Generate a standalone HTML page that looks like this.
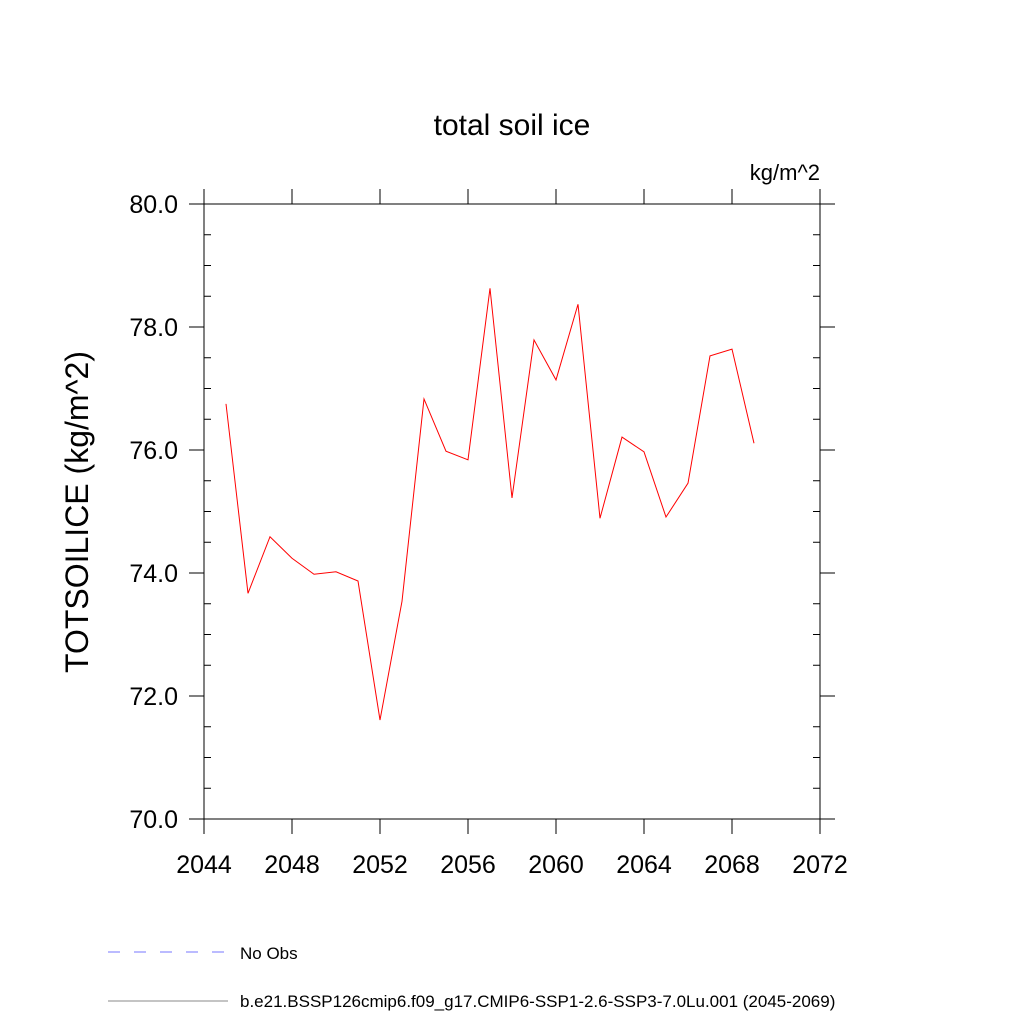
<!DOCTYPE html>
<html><head><meta charset="utf-8"><style>body{margin:0;background:#fff}svg{font-family:"Liberation Sans",sans-serif}</style></head>
<body>
<svg id="c" width="1024" height="1024">
<text x="512" y="135" font-size="30" text-anchor="middle">total soil ice</text>
<text x="820" y="180" font-size="22" text-anchor="end">kg/m^2</text>
<text transform="translate(88,512) rotate(-90)" font-size="32" text-anchor="middle">TOTSOILICE  (kg/m^2)</text>
<rect x="204" y="204" width="616" height="615" fill="none" stroke="#000" stroke-width="1"/>
<g id="ticks"></g>
<polyline id="line" fill="none" stroke="#f00" stroke-width="1"/>
<line x1="108" y1="952" x2="228" y2="952" stroke="#77f" stroke-dasharray="12,14"/>
<text x="240" y="959" font-size="17">No Obs</text>
<line x1="108" y1="1001" x2="228" y2="1001" stroke="#888"/>
<text x="240" y="1007" font-size="17">b.e21.BSSP126cmip6.f09_g17.CMIP6-SSP1-2.6-SSP3-7.0Lu.001 (2045-2069)</text>
</svg>
<script>
const years=[2045,2046,2047,2048,2049,2050,2051,2052,2053,2054,2055,2056,2057,2058,2059,2060,2061,2062,2063,2064,2065,2066,2067,2068,2069];
const values=[76.75,73.67,74.59,74.24,73.98,74.02,73.87,71.61,73.54,76.83,75.98,75.84,78.63,75.22,77.79,77.14,78.37,74.89,76.21,75.97,74.91,75.46,77.53,77.64,76.11];
const xTicks=[2044,2048,2052,2056,2060,2064,2068,2072];
const yTicks=[70,72,74,76,78,80];
const yTickLabels=["70.0","72.0","74.0","76.0","78.0","80.0"];
const X=v=>204+(v-2044)*616/28, Y=v=>819-(v-70)*61.5;
const ns="http://www.w3.org/2000/svg", g=document.getElementById('ticks');
function ln(x1,y1,x2,y2,n){const l=document.createElementNS(ns,'line');l.setAttribute('x1',x1);l.setAttribute('y1',y1);l.setAttribute('x2',x2);l.setAttribute('y2',y2);l.setAttribute('stroke','#000');


g.appendChild(l);}
function tx(x,y,s,a,n){const t=document.createElementNS(ns,'text');t.setAttribute('x',x);t.setAttribute('y',y);t.setAttribute('font-size','25');t.setAttribute('text-anchor',a);t.textContent=s;


g.appendChild(t);}
xTicks.forEach(v=>{const x=X(v);ln(x,819,x,834,'x-tick');ln(x,204,x,189,'x-tick-top');tx(x,873,String(v),'middle','x-tick-label');});
yTicks.forEach((v,i)=>{const y=Y(v);ln(204,y,189,y,'y-tick');ln(820,y,835,y,'y-tick-right');tx(178,y+9,yTickLabels[i],'end','y-tick-label');});
for(let v=70.5;v<80;v+=0.5){if(Math.abs(v-Math.round(v/2)*2)<1e-6)continue;const y=Y(v);ln(204,y,211,y,'y-minor-tick');ln(820,y,813,y,'y-minor-tick-right');}
document.getElementById('line').setAttribute('points',years.map((y,i)=>X(y)+','+Y(values[i])).join(' '));
</script>
</body></html>
